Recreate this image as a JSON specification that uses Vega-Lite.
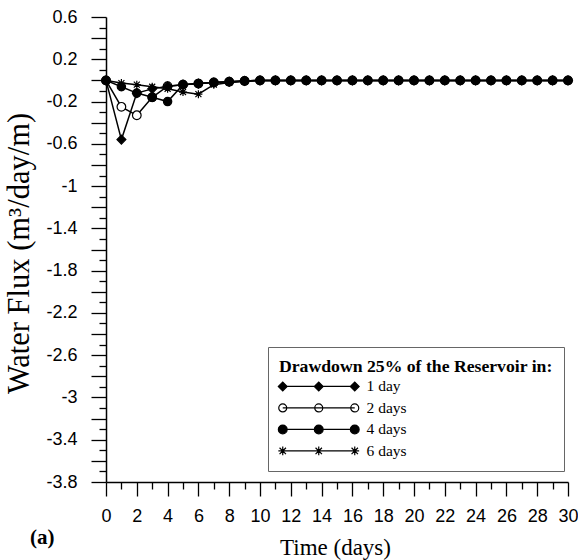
{
  "$schema": "https://vega.github.io/schema/vega-lite/v6.json",
  "autosize": {"type": "none"},
  "width": 462,
  "height": 465,
  "padding": {"left": 106, "top": 17, "right": 10, "bottom": 78},
  "background": "white",
  "config": {
    "view": {"stroke": null},
    "axis": {"grid": false, "domainColor": "black", "domainWidth": 1.5, "tickColor": "black", "tickWidth": 1.3, "labelColor": "black", "titleColor": "black", "labelFont": "Liberation Sans", "labelFontSize": 18, "titleFont": "Liberation Serif", "titleFontSize": 23, "titleFontWeight": "normal", "labelOverlap": false, "labelBound": false, "labelFlush": false},
    "legend": {"orient": "none", "legendX": 162, "legendY": 330, "direction": "vertical", "padding": 11, "strokeColor": "#666", "fillColor": "white", "cornerRadius": 0,
      "titleFont": "Liberation Serif", "titleFontSize": 17.7, "titleFontWeight": "bold", "titleColor": "black", "titleLimit": 400, "titlePadding": 3,
      "labelFont": "Liberation Serif", "labelFontSize": 15.5, "labelColor": "black", "labelOffset": 72, "labelLimit": 200,
      "rowPadding": 4.5, "symbolSize": 64, "symbolStrokeWidth": 1.2, "symbolStrokeColor": "black", "symbolFillColor": "black", "symbolOpacity": 1}
  },
  "title": {"text": "(a)", "orient": "bottom", "anchor": "start", "frame": "bounds", "font": "Liberation Serif", "fontSize": 21, "fontWeight": "bold", "color": "black", "dx": 26, "dy": -36},
  "data": {"values": [
    {"t":0,"s":"2 days","v":0},{"t":1,"s":"2 days","v":-0.25},{"t":2,"s":"2 days","v":-0.33},{"t":3,"s":"2 days","v":-0.16},{"t":4,"s":"2 days","v":-0.055},{"t":5,"s":"2 days","v":-0.04},{"t":6,"s":"2 days","v":-0.03},{"t":7,"s":"2 days","v":-0.02},{"t":8,"s":"2 days","v":-0.012},{"t":9,"s":"2 days","v":-0.005},{"t":10,"s":"2 days","v":0},{"t":11,"s":"2 days","v":0},{"t":12,"s":"2 days","v":0},{"t":13,"s":"2 days","v":0},{"t":14,"s":"2 days","v":0},{"t":15,"s":"2 days","v":0},{"t":16,"s":"2 days","v":0},{"t":17,"s":"2 days","v":0},{"t":18,"s":"2 days","v":0},{"t":19,"s":"2 days","v":0},{"t":20,"s":"2 days","v":0},{"t":21,"s":"2 days","v":0},{"t":22,"s":"2 days","v":0},{"t":23,"s":"2 days","v":0},{"t":24,"s":"2 days","v":0},{"t":25,"s":"2 days","v":0},{"t":26,"s":"2 days","v":0},{"t":27,"s":"2 days","v":0},{"t":28,"s":"2 days","v":0},{"t":29,"s":"2 days","v":0},{"t":30,"s":"2 days","v":0},
    {"t":0,"s":"1 day","v":0},{"t":1,"s":"1 day","v":-0.56},{"t":2,"s":"1 day","v":-0.12},{"t":3,"s":"1 day","v":-0.08},{"t":4,"s":"1 day","v":-0.055},{"t":5,"s":"1 day","v":-0.04},{"t":6,"s":"1 day","v":-0.03},{"t":7,"s":"1 day","v":-0.02},{"t":8,"s":"1 day","v":-0.012},{"t":9,"s":"1 day","v":-0.005},{"t":10,"s":"1 day","v":0},{"t":11,"s":"1 day","v":0},{"t":12,"s":"1 day","v":0},{"t":13,"s":"1 day","v":0},{"t":14,"s":"1 day","v":0},{"t":15,"s":"1 day","v":0},{"t":16,"s":"1 day","v":0},{"t":17,"s":"1 day","v":0},{"t":18,"s":"1 day","v":0},{"t":19,"s":"1 day","v":0},{"t":20,"s":"1 day","v":0},{"t":21,"s":"1 day","v":0},{"t":22,"s":"1 day","v":0},{"t":23,"s":"1 day","v":0},{"t":24,"s":"1 day","v":0},{"t":25,"s":"1 day","v":0},{"t":26,"s":"1 day","v":0},{"t":27,"s":"1 day","v":0},{"t":28,"s":"1 day","v":0},{"t":29,"s":"1 day","v":0},{"t":30,"s":"1 day","v":0},
    {"t":0,"s":"6 days","v":0},{"t":1,"s":"6 days","v":-0.025},{"t":2,"s":"6 days","v":-0.04},{"t":3,"s":"6 days","v":-0.06},{"t":4,"s":"6 days","v":-0.08},{"t":5,"s":"6 days","v":-0.11},{"t":6,"s":"6 days","v":-0.13},{"t":7,"s":"6 days","v":-0.04},{"t":8,"s":"6 days","v":-0.02},{"t":9,"s":"6 days","v":-0.01},{"t":10,"s":"6 days","v":0},{"t":11,"s":"6 days","v":0},{"t":12,"s":"6 days","v":0},{"t":13,"s":"6 days","v":0},{"t":14,"s":"6 days","v":0},{"t":15,"s":"6 days","v":0},{"t":16,"s":"6 days","v":0},{"t":17,"s":"6 days","v":0},{"t":18,"s":"6 days","v":0},{"t":19,"s":"6 days","v":0},{"t":20,"s":"6 days","v":0},{"t":21,"s":"6 days","v":0},{"t":22,"s":"6 days","v":0},{"t":23,"s":"6 days","v":0},{"t":24,"s":"6 days","v":0},{"t":25,"s":"6 days","v":0},{"t":26,"s":"6 days","v":0},{"t":27,"s":"6 days","v":0},{"t":28,"s":"6 days","v":0},{"t":29,"s":"6 days","v":0},{"t":30,"s":"6 days","v":0},
    {"t":0,"s":"4 days","v":0},{"t":1,"s":"4 days","v":-0.06},{"t":2,"s":"4 days","v":-0.12},{"t":3,"s":"4 days","v":-0.16},{"t":4,"s":"4 days","v":-0.2},{"t":5,"s":"4 days","v":-0.04},{"t":6,"s":"4 days","v":-0.03},{"t":7,"s":"4 days","v":-0.02},{"t":8,"s":"4 days","v":-0.012},{"t":9,"s":"4 days","v":-0.005},{"t":10,"s":"4 days","v":0},{"t":11,"s":"4 days","v":0},{"t":12,"s":"4 days","v":0},{"t":13,"s":"4 days","v":0},{"t":14,"s":"4 days","v":0},{"t":15,"s":"4 days","v":0},{"t":16,"s":"4 days","v":0},{"t":17,"s":"4 days","v":0},{"t":18,"s":"4 days","v":0},{"t":19,"s":"4 days","v":0},{"t":20,"s":"4 days","v":0},{"t":21,"s":"4 days","v":0},{"t":22,"s":"4 days","v":0},{"t":23,"s":"4 days","v":0},{"t":24,"s":"4 days","v":0},{"t":25,"s":"4 days","v":0},{"t":26,"s":"4 days","v":0},{"t":27,"s":"4 days","v":0},{"t":28,"s":"4 days","v":0},{"t":29,"s":"4 days","v":0},{"t":30,"s":"4 days","v":0}
  ]},
  "encoding": {
    "x": {"field": "t", "type": "quantitative", "scale": {"domain": [0, 30], "nice": false, "zero": false},
      "axis": {"title": "Time (days)", "values": [0,1,2,3,4,5,6,7,8,9,10,11,12,13,14,15,16,17,18,19,20,21,22,23,24,25,26,27,28,29,30],
        "labelExpr": "datum.value % 2 === 0 ? datum.label : ''",
        "tickSize": {"condition": {"test": "datum.value % 2 === 0", "value": 14}, "value": 7},
        "labelPadding": 11, "titleX": 229, "titleY": 65, "titleBaseline": "middle"}},
    "y": {"field": "v", "type": "quantitative", "scale": {"domain": [-3.8, 0.6], "nice": false, "zero": false},
      "axis": {"title": "Water Flux (m³/day/m)",
        "values": [0.6,0.5,0.4,0.3,0.2,0.1,0,-0.1,-0.2,-0.3,-0.4,-0.5,-0.6,-0.7,-0.8,-0.9,-1,-1.1,-1.2,-1.3,-1.4,-1.5,-1.6,-1.7,-1.8,-1.9,-2,-2.1,-2.2,-2.3,-2.4,-2.5,-2.6,-2.7,-2.8,-2.9,-3,-3.1,-3.2,-3.3,-3.4,-3.5,-3.6,-3.7,-3.8],
        "labelExpr": "(round((0.6 - datum.value) * 10) % 4 === 0) ? ('' + round(datum.value * 10) / 10) : ''",
        "tickSize": {"condition": {"test": "round(datum.value * 10) % 2 === 0", "value": 15}, "value": 7},
        "labelPadding": 14, "titleFontSize": 30.5, "titleX": -87, "titleY": 236, "titleBaseline": "middle", "titleAngle": -90}}
  },
  "layer": [
    {"mark": {"type": "line", "color": "black", "strokeWidth": 1.5},
     "encoding": {"detail": {"field": "s"}}},
    {"mark": {"type": "point", "filled": true, "opacity": 1, "stroke": "black", "strokeWidth": 1.2},
     "encoding": {
       "shape": {"field": "s", "type": "nominal",
         "scale": {"range": ["diamond", "circle", "circle", "M0,-1L0,1M-0.75,-0.75L0.75,0.75M-0.75,0.75L0.75,-0.75M-1,0L1,0"]}, "legend": null},
       "fill": {"field": "s", "type": "nominal", "scale": {"domain": ["1 day", "2 days", "4 days", "6 days"], "range": ["black", "white", "black", "black"]}, "legend": null},
       "size": {"field": "s", "type": "nominal", "scale": {"domain": ["1 day", "2 days", "4 days", "6 days"], "range": [80, 64, 90, 100]}, "legend": null}
     }},
    {"transform": [{"filter": "false"}],
     "mark": {"type": "point", "filled": true, "opacity": 1, "stroke": "black", "strokeWidth": 1.2, "size": 64},
     "encoding": {
       "shape": {"field": "s", "type": "nominal",
         "scale": {"domain": ["1 day", "2 days", "4 days", "6 days"], "range": [
           "M-2.1,0L-1,-1.1L0.1,0L-1,1.1Z M6.9,0L8,-1.1L9.1,0L8,1.1Z M15.9,0L17,-1.1L18.1,0L17,1.1Z M-1,0L17,0",
           "M-2,0A1,1 0 1,0 0,0A1,1 0 1,0 -2,0Z M7,0A1,1 0 1,0 9,0A1,1 0 1,0 7,0Z M16,0A1,1 0 1,0 18,0A1,1 0 1,0 16,0Z M-1,0L17,0",
           "M-2.1,0A1.1,1.1 0 1,0 0.1,0A1.1,1.1 0 1,0 -2.1,0Z M6.9,0A1.1,1.1 0 1,0 9.1,0A1.1,1.1 0 1,0 6.9,0Z M15.9,0A1.1,1.1 0 1,0 18.1,0A1.1,1.1 0 1,0 15.9,0Z M-1,0L17,0",
           "M-1,-1.1L-1,1.1M-1.8,-0.8L-0.2,0.8M-1.8,0.8L-0.2,-0.8M-2.1,0L0.1,0 M8,-1.1L8,1.1M7.2,-0.8L8.8,0.8M7.2,0.8L8.8,-0.8 M17,-1.1L17,1.1M16.2,-0.8L17.8,0.8M16.2,0.8L17.8,-0.8M15.9,0L18.1,0 M-1,0L17,0"]},
         "legend": {"title": "Drawdown 25% of the Reservoir in:"}},
       "fill": {"field": "s", "type": "nominal",
         "scale": {"domain": ["1 day", "2 days", "4 days", "6 days"], "range": ["black", "white", "black", "black"]},
         "legend": {"title": "Drawdown 25% of the Reservoir in:"}}
     }}
  ],
  "resolve": {"scale": {"shape": "independent", "fill": "independent", "size": "independent"}}
}
